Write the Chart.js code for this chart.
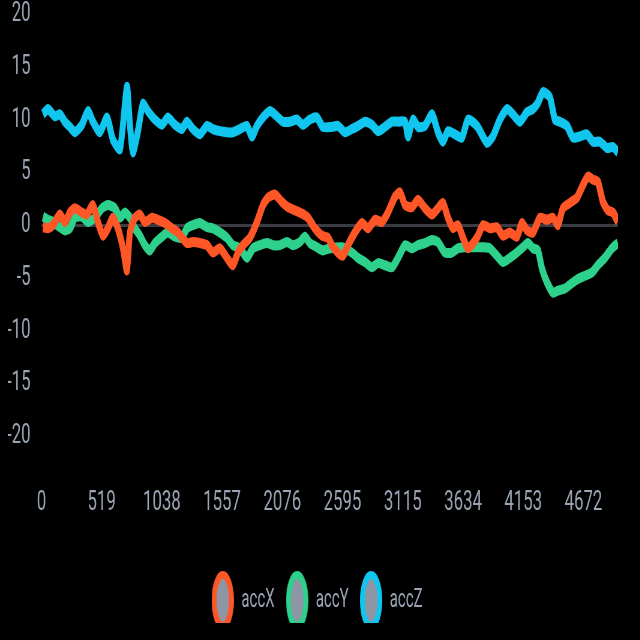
<!DOCTYPE html>
<html><head><meta charset="utf-8">
<script src="https://cdn.jsdelivr.net/npm/chart.js@4"></script>
<style>
html,body{margin:0;padding:0;background:#000;overflow:hidden;width:640px;height:640px;}
#wrap{position:absolute;left:0;top:0;width:1067px;height:640px;transform:scaleX(0.6);transform-origin:0 0;}
</style></head><body>
<div id="wrap"><canvas id="c"></canvas></div>
<script>
const seriesNames = ['accX', 'accY', 'accZ'];
const seriesColors = ['#ff5627', '#2dd18b', '#10c6ee'];
const xTickValues = [0, 519, 1038, 1557, 2076, 2595, 3115, 3634, 4153, 4672];
const yTickRange = [-25, 20];

const accXIdx = [13,56,99,159,202,246,289,349,392,444,487,530,573,616,659,703,737,763,806,849,892,953,1004,1065,1125,1177,1254,1306,1366,1427,1478,1539,1599,1651,1694,1737,1797,1858,1910,1953,2013,2073,2125,2185,2245,2297,2357,2418,2470,2504,2556,2599,2642,2702,2763,2815,2875,2935,2987,3048,3091,3134,3194,3246,3306,3367,3418,3461,3504,3547,3590,3634,3677,3754,3806,3866,3926,3978,4038,4099,4142,4185,4237,4297,4357,4409,4452,4495,4555,4616,4668,4711,4754,4797,4840,4883,4926,4970];
const accXVals = [-0.2,-0.3,0,1.0,0.3,1.2,1.6,1.2,1.0,1.9,0.3,-1.0,-0.3,0.7,-0.3,-2.2,-4.3,-0.7,0.7,1.0,0.3,0.7,0.5,0.2,-0.3,-0.7,-1.7,-1.6,-1.7,-1.9,-2.6,-2.2,-3.1,-3.8,-2.6,-1.9,-1.2,0.3,1.9,2.6,2.9,2.2,1.7,1.4,1.1,0.7,-0.3,-1.0,-1.2,-1.9,-2.6,-2.9,-1.9,-0.7,0.2,-0.3,0.5,0.3,1.2,2.7,3.1,1.9,1.7,2.4,1.6,1.0,1.6,2.1,0.7,-0.3,0,-1.2,-2.2,-1.2,0,-0.3,-0.2,-1.0,-0.7,-1.1,0.2,-0.5,-0.7,0.7,0.5,0.7,0,1.6,2.1,2.6,3.8,4.6,4.3,4.1,2.2,1.4,1.2,0.3];

const accYIdx = [13,56,99,159,202,246,289,349,401,461,522,573,633,677,720,763,806,849,892,935,978,1039,1090,1151,1211,1254,1306,1366,1427,1478,1539,1599,1651,1711,1771,1823,1884,1944,1996,2056,2116,2168,2228,2271,2314,2375,2426,2487,2590,2676,2728,2789,2849,2901,2961,3022,3074,3134,3194,3246,3306,3367,3418,3478,3539,3590,3651,3754,3806,3866,3926,3978,4038,4099,4150,4193,4237,4280,4314,4357,4409,4452,4512,4573,4624,4685,4745,4797,4857,4918,4970];
const accYVals = [0.8,0.5,0.3,-0.2,-0.5,-0.3,0.7,0.8,0.3,0.7,1.6,1.9,1.6,0.7,1.2,0.7,-0.3,-1.0,-1.9,-2.4,-1.7,-1.1,-0.7,-1.1,-1.2,-0.3,0,0.2,-0.2,-0.3,-0.7,-1.2,-1.9,-2.2,-3.1,-2.2,-1.9,-1.7,-1.9,-1.9,-1.6,-1.9,-1.6,-1.1,-1.7,-2.1,-2.4,-2.2,-2.1,-2.6,-3.1,-3.5,-4.0,-3.6,-3.8,-4.0,-3.1,-1.9,-2.2,-1.9,-1.7,-1.4,-1.6,-2.6,-2.6,-2.2,-2.1,-2.1,-2.1,-2.2,-2.9,-3.5,-3.1,-2.6,-2.1,-1.7,-2.2,-2.4,-4.1,-5.4,-6.4,-6.2,-6.0,-5.5,-5.1,-4.8,-4.5,-3.8,-3.1,-2.2,-1.7];

const accZIdx = [13,56,116,159,202,246,289,349,401,444,504,565,616,677,737,763,789,832,875,918,978,1039,1090,1151,1211,1254,1306,1366,1427,1478,1539,1599,1651,1711,1771,1815,1858,1910,1970,2030,2082,2142,2202,2254,2314,2375,2426,2504,2556,2616,2676,2728,2789,2849,2901,2961,3022,3074,3134,3160,3203,3246,3306,3367,3418,3461,3504,3565,3625,3677,3754,3840,3892,3952,4013,4064,4125,4185,4237,4280,4323,4383,4426,4469,4530,4581,4642,4702,4754,4814,4875,4926,4970];
const accZVals = [10.5,11.0,10.3,10.5,9.8,9.3,8.8,9.5,10.8,9.8,8.8,10.2,8.1,7.2,13.1,9.5,6.9,8.9,11.5,10.8,10.0,9.5,10.2,9.5,9.1,9.8,9.1,8.6,9.4,9.1,8.9,8.8,8.8,9.1,9.4,8.4,9.4,10.2,10.8,10.3,9.8,9.8,10.0,9.5,10.0,10.2,9.3,9.3,9.4,8.8,9.1,9.4,9.8,9.5,8.9,9.3,9.8,9.8,9.8,8.4,10.0,9.3,9.4,10.5,8.8,7.9,8.9,8.6,8.3,10.0,9.4,7.8,8.4,10.0,11.0,10.5,9.8,10.7,11.0,11.6,12.6,12.1,10.0,9.8,9.4,8.3,8.4,8.6,7.9,7.9,7.3,7.4,6.9];

const TEXT = '#9ba4b4';
const FONT = 'Roboto, "Open Sans", sans-serif';

function pairs(idx, vals) { return idx.map((x, i) => ({x: x, y: vals[i]})); }
function marker(color) {
  const c = document.createElement('canvas');
  c.width = 37; c.height = 59;
  const g = c.getContext('2d');
  g.beginPath();
  g.ellipse(18.5, 29.5, 14.5, 25.5, 0, 0, Math.PI * 2);
  g.fillStyle = '#8e96a6';
  g.fill();
  g.lineWidth = 8;
  g.strokeStyle = color;
  g.stroke();
  return c;
}

const seriesData = [pairs(accXIdx, accXVals), pairs(accYIdx, accYVals), pairs(accZIdx, accZVals)];
const datasets = seriesNames.map((n, i) => ({
  label: n,
  data: seriesData[i],
  borderColor: seriesColors[i],
  backgroundColor: seriesColors[i],
  borderWidth: 10,
  pointRadius: 0,
  pointHoverRadius: 0,
  pointStyle: marker(seriesColors[i]),
  tension: 0.2,
  fill: false
}));

const legendShift = {
  id: 'legendShift',
  afterLayout(chart) {
    if (chart.legend) { chart.legend.left += 7; chart.legend.right += 7; }
  }
};

new Chart(document.getElementById('c'), {
  type: 'line',
  data: { datasets },
  plugins: [legendShift],
  options: {
    responsive: true,
    maintainAspectRatio: false,
    animation: false,
    events: [],
    layout: { padding: { left: 13, right: 37, top: 0, bottom: 17 } },
    plugins: {
      tooltip: { enabled: false },
      legend: {
        position: 'bottom',
        title: { display: true, text: '', font: { size: 10, lineHeight: 1 }, padding: { top: 42, bottom: 0 } },
        labels: {
          usePointStyle: true,
          pointStyleWidth: 37,
          color: TEXT,
          padding: 19,
          font: { family: FONT, size: 25 }
        }
      }
    },
    scales: {
      x: {
        type: 'linear',
        min: 0,
        max: 4970,
        afterBuildTicks: (s) => { s.ticks = xTickValues.map(v => ({ value: v })); },
        afterFit: (s) => { s.height = 28; },
        grid: { display: false, drawTicks: false },
        border: { display: false },
        ticks: {
          color: TEXT,
          padding: 0,
          maxRotation: 0,
          autoSkip: false,
          font: { family: FONT, size: 28, lineHeight: 1 },
          callback: (v) => String(v)
        }
      },
      y: {
        min: yTickRange[0],
        max: yTickRange[1],
        afterFit: (s) => { s.width = 56; },
        grid: {
          drawTicks: true,
          tickLength: 18,
          tickColor: 'rgba(0,0,0,0)',
          color: (ctx) => (ctx.tick && ctx.tick.value === 0) ? '#3a3b43' : 'rgba(0,0,0,0)',
          lineWidth: 3
        },
        border: { display: false },
        ticks: {
          stepSize: 5,
          color: TEXT,
          padding: 0,
          font: { family: FONT, size: 28, lineHeight: 1 },
          callback: (v) => v === yTickRange[0] ? '' : String(v)
        }
      }
    }
  }
});
</script>
</body></html>
